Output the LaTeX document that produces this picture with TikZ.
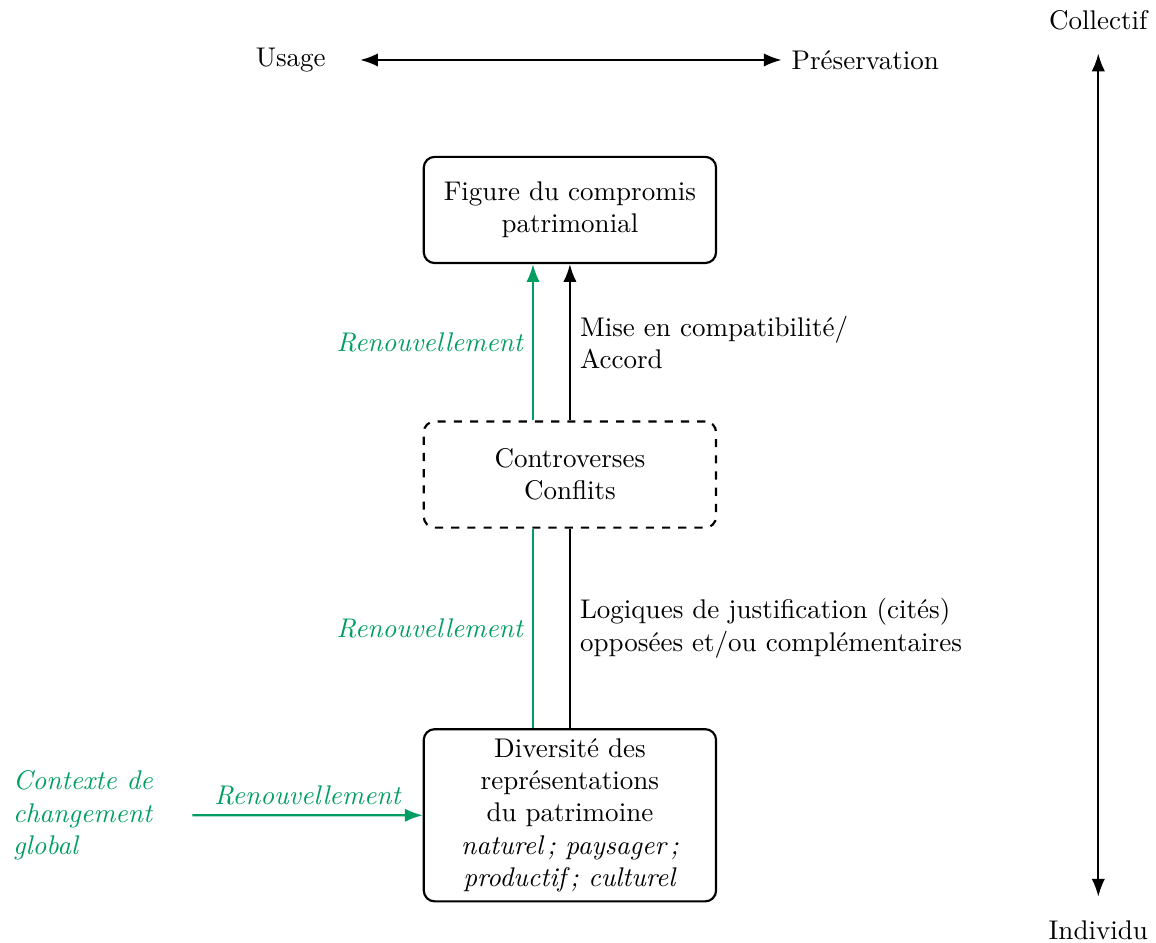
\documentclass[tikz,border=0pt]{standalone}
\usepackage{tikz}
\usetikzlibrary{arrows.meta, positioning}
\definecolor{vertrenouv}{RGB}{0,158,96}

\begin{document}
\begin{tikzpicture}[
    >=Latex,
    thick,
    node distance=3.44cm,
    on grid,
    bloc/.style={draw, rounded corners, align=center, minimum width=3.8cm, minimum height=1.38cm},
    renouv/.style={vertrenouv, font=\itshape},
]
    \useasboundingbox (0,0) rectangle (15.03,-12.25);

    \node[bloc]                      (F) at (7.41,-2.73) {Figure du compromis\\patrimonial};
    \node[bloc, dashed, below =of F] (C) {Controverses\\Conflits};
    \node[bloc, below =4.43cm of C, minimum height=2.18cm] (D)
        {Diversité des\\représentations\\du patrimoine\\\textit{naturel\,; paysager\,;}\\\textit{productif\,; culturel}};

    \node[renouv, align=left, anchor=west] (X) at (0.04,-10.60) {Contexte de\\changement\\global};
    \coordinate (x0) at (2.50,-10.60);

    \node (U) at (3.78,-0.78)   {Usage};
    \node (P) at (11.25,-0.78)  {Préservation};
    \node (K) at (14.28,-0.26)  {Collectif};
    \node (I) at (14.28,-12.09) {Individu};

    % axes
    \draw[<->, shorten <=9pt] (U.east) -- (P.west);
    \draw[<->, shorten <=5pt, shorten >=5pt] (K.south) -- (I.north);

    % liens entre blocs
    \draw[->, vertrenouv] ([xshift=-0.48cm]C.north) -- node[left, renouv] {Renouvellement} ([xshift=-0.48cm]F.south);
    \draw[->] (C.north) -- node[right, align=left] {Mise en compatibilité/\\Accord} (F.south);
    \draw[vertrenouv] ([xshift=-0.48cm]D.north) -- node[left, renouv] {Renouvellement} ([xshift=-0.48cm]C.south);
    \draw (D.north) -- node[right, align=left] {Logiques de justification (cités)\\opposées et/ou complémentaires} (C.south);
    \draw[->, vertrenouv] (x0) -- node[above, renouv] {Renouvellement} (D.west);
\end{tikzpicture}
\end{document}
